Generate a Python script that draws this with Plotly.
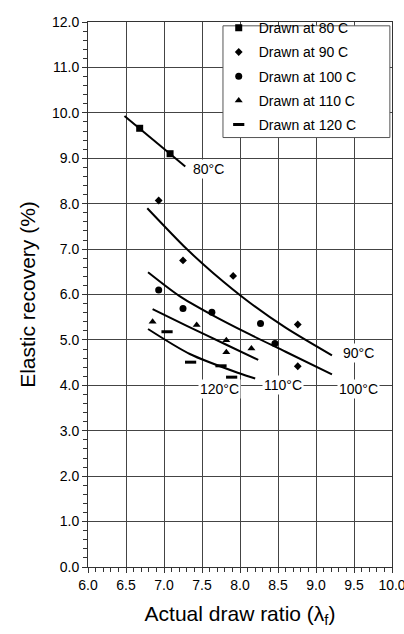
import plotly.graph_objects as go

# Measured elastic recovery (%) vs. actual draw ratio for each drawing temperature
ratio_80 = [6.68, 7.08]
rec_80 = [9.66, 9.10]

ratio_90 = [6.93, 7.25, 7.91, 8.76, 8.76]
rec_90 = [8.07, 6.75, 6.41, 5.34, 4.42]

ratio_100 = [6.93, 7.25, 7.63, 8.27, 8.46]
rec_100 = [6.10, 5.69, 5.61, 5.36, 4.92]

ratio_110 = [6.85, 7.43, 7.82, 7.82, 8.15]
rec_110 = [5.40, 5.33, 4.99, 4.73, 4.81]

ratio_120 = [7.04, 7.35, 7.75, 7.89]
rec_120 = [5.18, 4.51, 4.43, 4.18]

# Trend lines for each temperature
fit_x_80 = [6.48, 7.28]
fit_y_80 = [9.93, 8.82]
fit_x_90 = [6.78, 7.30, 7.65, 8.13, 8.60, 9.21]
fit_y_90 = [7.90, 7.00, 6.47, 5.82, 5.27, 4.66]
fit_x_100 = [6.79, 7.20, 7.60, 8.13, 8.60, 9.21]
fit_y_100 = [6.49, 5.97, 5.58, 5.12, 4.74, 4.24]
fit_x_110 = [6.85, 7.30, 7.80, 8.24]
fit_y_110 = [5.68, 5.31, 4.91, 4.56]
fit_x_120 = [6.79, 7.34, 8.00, 8.20]
fit_y_120 = [5.24, 4.69, 4.26, 4.15]

# Curve labels
label_text = ["80°C", "90°C", "100°C", "110°C", "120°C"]
label_x = [7.59, 9.56, 9.56, 8.56, 7.73]
label_y = [8.76, 4.72, 3.93, 4.00, 3.93]

FONT = "Liberation Sans, Arial, sans-serif"

fig = go.Figure()

point_sets = [
    ("Drawn at 80 C", ratio_80, rec_80, "square", 7),
    ("Drawn at 90 C", ratio_90, rec_90, "diamond", 6),
    ("Drawn at 100 C", ratio_100, rec_100, "circle", 7),
    ("Drawn at 110 C", ratio_110, rec_110, "triangle-up", 7),
    ("Drawn at 120 C", ratio_120, rec_120, "line-ew", 8),
]
fits = [(fit_x_80, fit_y_80), (fit_x_90, fit_y_90), (fit_x_100, fit_y_100),
        (fit_x_110, fit_y_110), (fit_x_120, fit_y_120)]

for i, ((name, xs, ys, sym, size), (fx, fy)) in enumerate(zip(point_sets, fits)):
    marker = dict(symbol=sym, size=size, color="black")
    if sym == "line-ew":
        marker["line"] = dict(color="black", width=3)
    fig.add_trace(go.Scatter(x=xs, y=ys, mode="markers", name=name,
                             marker=marker, legendgroup=f"g{i}"))
    fig.add_trace(go.Scatter(
        x=fx, y=fy, mode="lines", showlegend=False, hoverinfo="skip",
        legendgroup=f"g{i}",
        line=dict(color="black", width=2, shape="spline", smoothing=0.8),
    ))

for t, lx, ly in zip(label_text, label_x, label_y):
    fig.add_annotation(x=lx, y=ly, text=t, showarrow=False,
                       font=dict(family=FONT, size=14, color="black"),
                       bgcolor="white", borderpad=1)

# Legend frame, drawn over the grid
fig.add_shape(type="rect", xref="paper", yref="paper",
              x0=0.444, x1=0.993, y0=0.788, y1=0.993,
              fillcolor="white", line=dict(color="#555555", width=1),
              layer="above")

axis_common = dict(
    showgrid=True, gridcolor="#444444", gridwidth=1,
    showline=True, linecolor="#333333", linewidth=1, mirror=True,
    zeroline=False, ticks="outside", ticklen=5, tickcolor="#333333",
    tickfont=dict(family=FONT, size=14, color="black"),
    automargin=False,
)

fig.update_xaxes(
    range=[6.0, 10.0], tickmode="array",
    tickvals=[6.0, 6.5, 7.0, 7.5, 8.0, 8.5, 9.0, 9.5, 10.0],
    ticktext=["6.0", "6.5", "7.0", "7.5", "8.0", "8.5", "9.0", "9.5", "10.0"],
    ticklabeloverflow="allow",
    minor=dict(dtick=0.1, ticks="outside", ticklen=4, tickcolor="#333333", showgrid=False),
    title=dict(text="Actual draw ratio (λ<sub>f</sub>)",
               font=dict(family=FONT, size=21, color="black"), standoff=14),
    **axis_common,
)
fig.update_yaxes(
    range=[0.0, 12.0], tickmode="array",
    tickvals=list(range(0, 13)),
    ticktext=[f"{v}.0" for v in range(0, 13)],
    minor=dict(dtick=0.2, ticks="outside", ticklen=4, tickcolor="#333333", showgrid=False),
    title=dict(text="Elastic recovery (%)",
               font=dict(family=FONT, size=21, color="black"), standoff=10),
    **axis_common,
)

fig.update_layout(
    width=404, height=634,
    margin=dict(l=88, r=12, t=16, b=67),
    paper_bgcolor="white", plot_bgcolor="white",
    font=dict(family=FONT, color="black"),
    legend=dict(
        x=0.43, y=1.018, xanchor="left", yanchor="top",
        bgcolor="rgba(0,0,0,0)", borderwidth=0,
        font=dict(family=FONT, size=14, color="black"),
        itemwidth=30, tracegroupgap=3,
    ),
)

fig.write_html("out.html")
